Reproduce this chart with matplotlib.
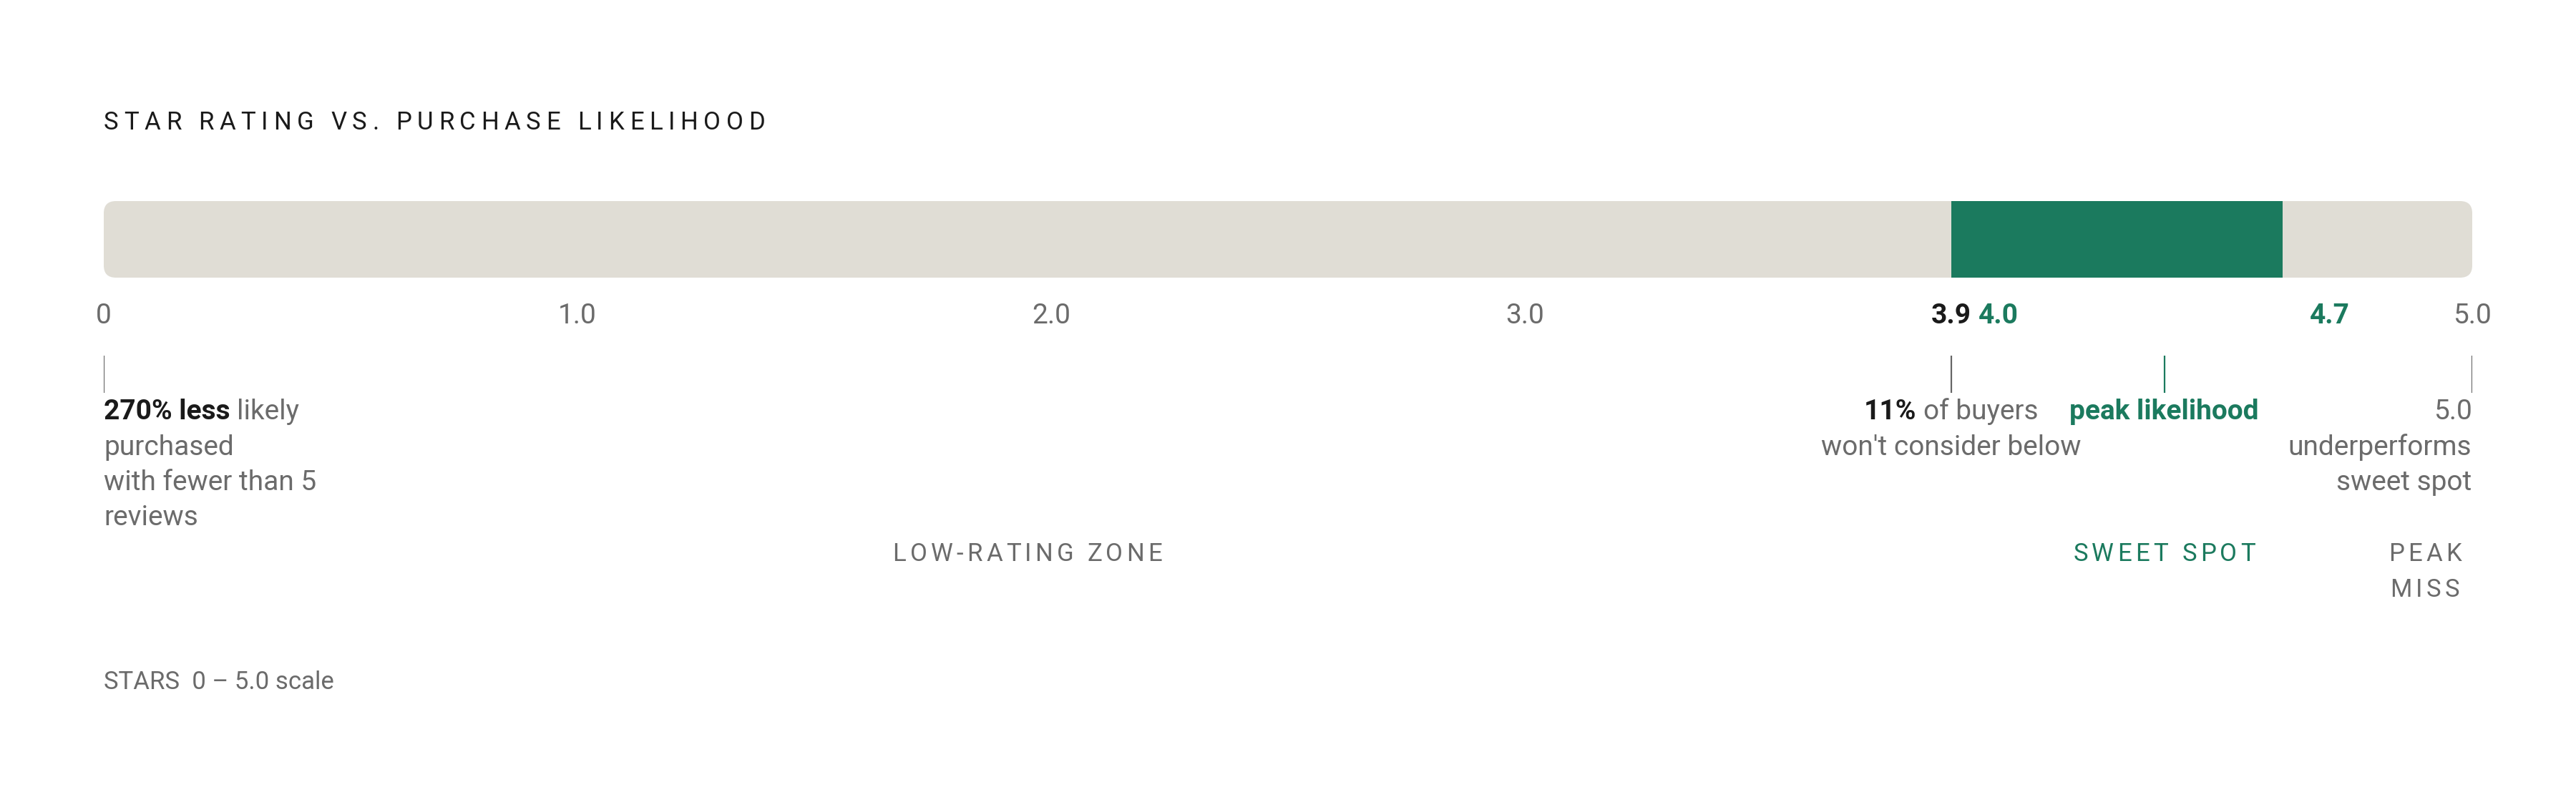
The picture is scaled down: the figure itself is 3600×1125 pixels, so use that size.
import matplotlib
matplotlib.use('Agg')
import matplotlib.pyplot as plt
from matplotlib import font_manager, transforms
from matplotlib.font_manager import FontProperties
from matplotlib.ft2font import FT2Font
from matplotlib.patches import FancyBboxPatch, Rectangle

# Dados da escala
escala_min, escala_max = 0, 5.0
faixa_ideal_ini, faixa_ideal_fim = 3.9, 4.6
pico = 4.35

ticks_valores = [0, 1.0, 2.0, 3.0, 3.9, 4.0, 4.7, 5.0]
ticks_rotulos = ['0', '1.0', '2.0', '3.0', '3.9', '4.0', '4.7', '5.0']
ticks_tipo = ['plain', 'plain', 'plain', 'plain', 'dark', 'green', 'green', 'plain']

marcadores = [0, 3.9, 4.35, 5.0]
marcadores_tipo = ['plain', 'plain', 'green', 'plain']

zonas_nomes = [['LOW-RATING ZONE'], ['SWEET SPOT'], ['PEAK', 'MISS']]
zonas_centros = [1.95, 4.35, 4.9]
zonas_tipo = ['plain', 'green', 'plain']

# notas: cada linha é uma lista de trechos (texto, negrito, tipo de cor)
nota_esquerda = [[('270% less', True, 'dark'), ('likely', False, 'plain')],
                 [('purchased', False, 'plain')],
                 [('with fewer than 5', False, 'plain')],
                 [('reviews', False, 'plain')]]
nota_corte = [[('11%', True, 'dark'), ('of buyers', False, 'plain')],
              [("won't consider below", False, 'plain')]]
nota_pico = [[('peak likelihood', True, 'green')]]
nota_topo = [[('5.0', False, 'plain')],
             [('underperforms', False, 'plain')],
             [('sweet spot', False, 'plain')]]

titulo = 'STAR RATING VS. PURCHASE LIKELIHOOD'
rodape = 'STARS  0 \u2013 5.0 scale'

# Estilo
DPI = 100
FONTE = 'Roboto'
cores = {'plain': '#6b6b6b', 'dark': '#1a1a1a', 'green': '#1b7a5e'}
cor_barra = '#e0ddd5'
cor_linha = '#666666'

fig = plt.figure(figsize=(36, 11.25), dpi=DPI)
fig.patch.set_facecolor('white')
# eixo x em estrelas, eixo y em pixels a partir do topo
ax = fig.add_axes([145 / 3600, 0, 3310 / 3600, 1])
ax.set_xlim(escala_min, escala_max)
ax.set_ylim(1125, 0)
ax.axis('off')

px_por_estrela = 3310 / (escala_max - escala_min)


def avancos(texto, tamanho, negrito=False):
    caminho = font_manager.findfont(FontProperties(family=FONTE, weight='bold' if negrito else 'normal'))
    f = FT2Font(caminho)
    f.set_size(tamanho, DPI)
    return [f.load_char(ord(c)).linearHoriAdvance / 65536 for c in texto]


def escrever(x, y, dx, texto, tamanho, negrito, cor, espaco=0.0):
    # espaco = espaçamento entre letras em px
    if espaco == 0:
        tr = transforms.offset_copy(ax.transData, fig=fig, x=dx, y=0, units='dots')
        ax.text(x, y, texto, transform=tr, fontsize=tamanho, family=FONTE,
                fontweight='bold' if negrito else 'normal', color=cor,
                ha='left', va='baseline', clip_on=False)
        return
    pos = dx
    for c, a in zip(texto, avancos(texto, tamanho, negrito)):
        if c != ' ':
            tr = transforms.offset_copy(ax.transData, fig=fig, x=pos + a / 2, y=0, units='dots')
            ax.text(x, y, c, transform=tr, fontsize=tamanho, family=FONTE,
                    fontweight='bold' if negrito else 'normal', color=cor,
                    ha='center', va='baseline', clip_on=False)
        pos += a + espaco


def largura(texto, tamanho, negrito=False, espaco=0.0):
    return sum(avancos(texto, tamanho, negrito)) + espaco * (len(texto) - 1)


def nota(x, y0, linhas, alinhamento, tamanho=28, passo=49.5):
    vao = avancos(' ', tamanho)[0]
    for i, trechos in enumerate(linhas):
        ws = [largura(t, tamanho, b) for t, b, _ in trechos]
        total = sum(ws) + vao * (len(trechos) - 1)
        inicio = {'left': 0, 'center': -total / 2, 'right': -total}[alinhamento]
        for (t, b, k), w in zip(trechos, ws):
            escrever(x, y0 + i * passo, inicio, t, tamanho, b, cores[k])
            inicio += w + vao


# Barra de fundo arredondada
raio = 17 / px_por_estrela
ax.add_patch(FancyBboxPatch((escala_min, 281), escala_max - escala_min, 107,
                            boxstyle=f'round,pad=0,rounding_size={raio}',
                            mutation_aspect=px_por_estrela,
                            facecolor=cor_barra, edgecolor='none'))
# Faixa ideal
ax.add_patch(Rectangle((faixa_ideal_ini, 281), faixa_ideal_fim - faixa_ideal_ini, 107,
                       facecolor=cores['green'], edgecolor='none'))

# Título
escrever(escala_min, 181, 0, titulo, 25, False, cores['dark'], espaco=0.22 * 25 * DPI / 72)

# Rótulos da escala
for v, r, k in zip(ticks_valores, ticks_rotulos, ticks_tipo):
    w = largura(r, 28, k != 'plain')
    escrever(v, 452, -w / 2, r, 28, k != 'plain', cores[k])

# Marcadores verticais
for v, k in zip(marcadores, marcadores_tipo):
    ax.vlines(v, 497, 549, colors=cor_linha if k == 'plain' else cores['green'], linewidth=1.6)

# Notas
nota(0, 586, nota_esquerda, 'left')
nota(3.9, 586, nota_corte, 'center')
nota(pico, 586, nota_pico, 'center')
nota(5.0, 586, nota_topo, 'right')

# Zonas
for nomes, c, k in zip(zonas_nomes, zonas_centros, zonas_tipo):
    for i, n in enumerate(nomes):
        esp = 0.15 * 25 * DPI / 72
        w = largura(n, 25, False, esp)
        escrever(c, 784 + i * 50, -w / 2, n, 25, False, cores[k], espaco=esp)

# Rodapé
escrever(escala_min, 963, 0, rodape, 25, False, cores['plain'])

plt.savefig('out.png', dpi=DPI, facecolor='white')
